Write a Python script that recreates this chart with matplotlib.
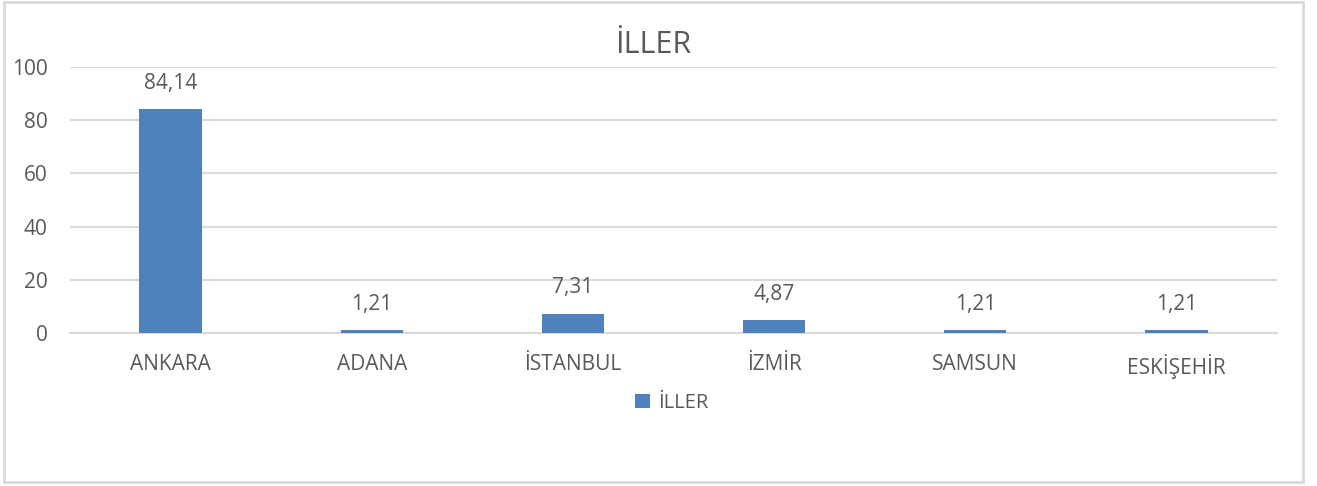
import matplotlib
matplotlib.use("Agg")
import matplotlib.pyplot as plt
from matplotlib.patches import Rectangle

categories = ["ANKARA", "ADANA", "İSTANBUL", "İZMİR", "SAMSUN", "ESKİŞEHİR"]
values = [84.14, 1.21, 7.31, 4.87, 1.21, 1.21]
value_labels = ["84,14", "1,21", "7,31", "4,87", "1,21", "1,21"]
yticks = [0, 20, 40, 60, 80, 100]
series_name = "İLLER"
title = "İLLER"

plt.rcParams['font.family'] = ['Open Sans', 'DejaVu Sans']
text_color = "#595959"
bar_color = "#4F81BD"
grid_color = "#D9D9D9"

fig = plt.figure(figsize=(13.17, 4.86), dpi=100)
ax = fig.add_axes([70/1317, 1-333/486, (1277-70)/1317, (333-67)/486])

x = list(range(len(categories)))
bars = ax.bar(x, values, width=0.31, color=bar_color, label=series_name, zorder=3)
for xi, v, lab in zip(x, values, value_labels):
    ax.annotate(lab, (xi, v), xytext=(0, 11), textcoords="offset points",
                ha="center", va="bottom", fontsize=15, color=text_color)

ax.set_xlim(-0.5, len(categories) - 0.5)
ax.set_ylim(0, 100)
ax.set_yticks(yticks)
ax.set_yticklabels([str(t) for t in yticks])
ax.set_xticks(x)
ax.set_xticklabels(categories)
ax.tick_params(axis='y', length=0, pad=16, labelsize=15, labelcolor=text_color)
ax.tick_params(axis='x', length=0, pad=15, labelsize=15, labelcolor=text_color)
ax.yaxis.grid(True, color=grid_color, linewidth=1.5, zorder=0)
for s in ["top", "right", "left"]:
    ax.spines[s].set_visible(False)
ax.spines["bottom"].set_color(grid_color)
ax.spines["bottom"].set_linewidth(1.5)

fig.text(653/1317, 1-45/486, title, ha="center", va="center", fontsize=22, color=text_color)

leg = fig.legend(handles=[bars], labels=[series_name], loc="center",
                 bbox_to_anchor=(672/1317, 1-403/486), frameon=False,
                 fontsize=14.5, handlelength=0.75, handleheight=0.75, handletextpad=0.4)
for t in leg.get_texts():
    t.set_color(text_color)

fig.patches.append(Rectangle((4/1317, 1-482/486), (1303-4)/1317, (482-2)/486,
                             transform=fig.transFigure, fill=False,
                             edgecolor=grid_color, linewidth=2))

fig.savefig("out.png", dpi=100)
